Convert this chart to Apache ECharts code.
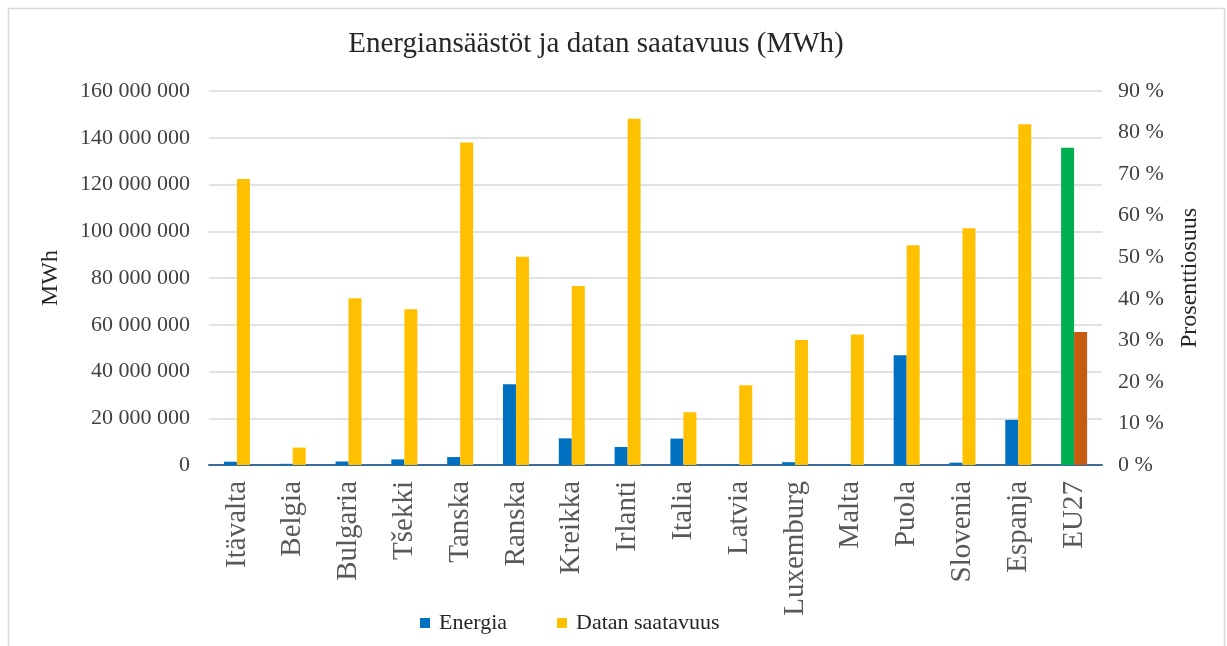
<!DOCTYPE html>
<html>
<head>
<meta charset="utf-8">
<script src="https://cdn.jsdelivr.net/npm/echarts@6/dist/echarts.min.js"></script>
<style>html,body{margin:0;padding:0;background:#fff}#c{width:1227px;height:646px}</style>
</head>
<body>
<div id="c"></div>
<script>
const categories = ['Itävalta','Belgia','Bulgaria','Tšekki','Tanska','Ranska','Kreikka','Irlanti','Italia','Latvia','Luxemburg','Malta','Puola','Slovenia','Espanja','EU27'];
// Energia, MWh (left axis)
const energia = [1400000, 500000, 1500000, 2400000, 3400000, 34500000, 11400000, 7700000, 11300000, 300000, 1200000, 300000, 47000000, 1000000, 19300000, 135700000];
// Datan saatavuus, % (right axis)
const saatavuus = [68.8, 4.2, 40.1, 37.5, 77.6, 50.1, 43.1, 83.3, 12.7, 19.2, 30.1, 31.4, 52.9, 57.0, 82.0, 32.0];
const leftTicks = {min: 0, max: 160000000, interval: 20000000};
const rightTicks = {min: 0, max: 90, interval: 10};

const serif = 'Liberation Serif';
const n = categories.length;
const energiaData = energia.map((v, i) => i === n - 1 ? {value: v, itemStyle: {color: '#00B050'}} : v);
const saatData = saatavuus.map((v, i) => i === n - 1 ? {value: v, itemStyle: {color: '#C55A11'}} : v);
const fmt = v => String(v).replace(/\B(?=(\d{3})+(?!\d))/g, ' ');

const chart = echarts.init(document.getElementById('c'));
chart.setOption({
  animation: false,
  backgroundColor: '#fff',
  textStyle: {fontFamily: serif},
  graphic: [{
    type: 'rect', silent: true,
    shape: {x: 8.5, y: 8.5, width: 1216, height: 700},
    style: {fill: 'none', stroke: '#d9d9d9', lineWidth: 1.5}
  }],
  title: {
    text: 'Energiansäästöt ja datan saatavuus (MWh)',
    left: 591, top: 25, textAlign: 'center',
    textStyle: {fontFamily: serif, fontSize: 29, fontWeight: 'normal', color: '#262626'}
  },
  legend: {
    left: 415, top: 607,
    icon: 'rect', itemWidth: 10, itemHeight: 10, itemGap: 50,
    formatter: '{t|{name}}',
    textStyle: {
      fontFamily: serif, fontSize: 22, color: '#262626',
      rich: {t: {fontFamily: serif, fontSize: 22, color: '#262626', padding: [0, 0, 0, 4]}}
    },
    data: [
      {name: 'Energia', itemStyle: {color: '#0070C0'}},
      {name: 'Datan saatavuus', itemStyle: {color: '#FFC000'}}
    ]
  },
  grid: {left: 209, right: 125, top: 91, bottom: 181},
  xAxis: {
    type: 'category', data: categories,
    axisTick: {show: false},
    axisLine: {lineStyle: {color: '#3b6d9c', width: 2}},
    axisLabel: {rotate: 90, margin: 16, interval: 0, fontFamily: serif, fontSize: 29, color: '#595959'}
  },
  yAxis: [{
    type: 'value', min: leftTicks.min, max: leftTicks.max, interval: leftTicks.interval,
    name: 'MWh', nameLocation: 'middle', nameGap: 146, nameRotate: 90,
    nameTextStyle: {fontFamily: serif, fontSize: 24, color: '#262626'},
    axisLine: {show: false}, axisTick: {show: false},
    axisLabel: {margin: 19, formatter: fmt, fontFamily: serif, fontSize: 22, color: '#404040'},
    splitLine: {lineStyle: {color: '#d9d9d9', width: 1.5}}
  }, {
    type: 'value', min: rightTicks.min, max: rightTicks.max, interval: rightTicks.interval,
    name: 'Prosenttiosuus', nameLocation: 'middle', nameGap: 76, nameRotate: 90,
    nameTextStyle: {fontFamily: serif, fontSize: 24, color: '#262626'},
    axisLine: {show: false}, axisTick: {show: false},
    axisLabel: {margin: 16, formatter: '{value} %', fontFamily: serif, fontSize: 22, color: '#404040'},
    splitLine: {show: false}
  }],
  series: [{
    name: 'Energia', type: 'bar', yAxisIndex: 0, data: energiaData,
    barWidth: 13, barGap: '0%', itemStyle: {color: '#0070C0'}
  }, {
    name: 'Datan saatavuus', type: 'bar', yAxisIndex: 1, data: saatData,
    barWidth: 13, barGap: '0%', itemStyle: {color: '#FFC000'}
  }]
});
</script>
</body>
</html>
